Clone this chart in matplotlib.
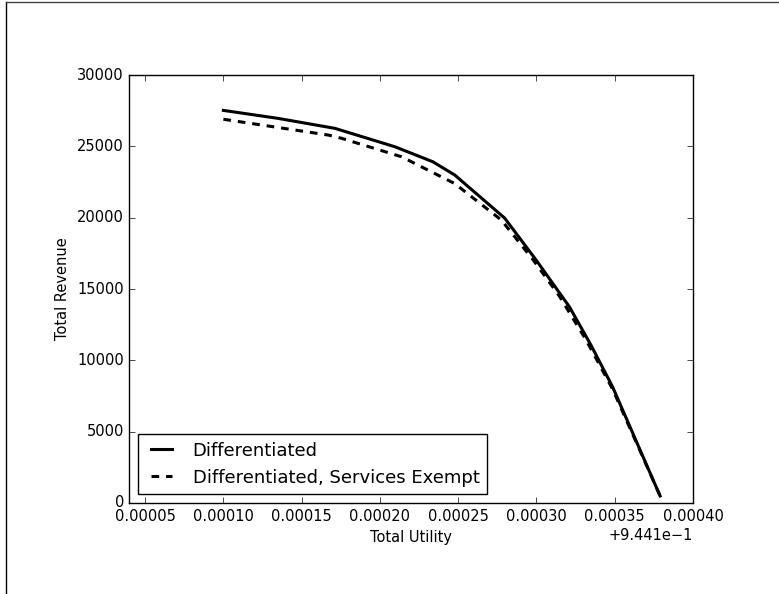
import matplotlib
matplotlib.use("Agg")
import matplotlib.pyplot as plt
from matplotlib.lines import Line2D

# ---------- Data ----------
utility_diff = [0.9442000, 0.9442350, 0.9442713, 0.9443096, 0.9443338, 0.9443478,
                0.9443796, 0.9443998, 0.9444210, 0.9444348, 0.9444486, 0.9444790]
revenue_diff = [27520, 26960, 26260, 24970, 23920, 22990,
                19980, 17030, 13760, 11070, 8150, 490]

utility_exempt = [0.9442000, 0.9442671, 0.9442756, 0.9443138, 0.9443478, 0.9443775,
                  0.9443975, 0.9444146, 0.9444317, 0.9444486, 0.9444790]
revenue_exempt = [26900, 25790, 25560, 24270, 22390, 19840,
                  17100, 14510, 11430, 7990, 490]

labels = ["Differentiated", "Differentiated, Services Exempt"]
x_offset = 0.9441

# ---------- Style ----------
plt.style.use("classic")
plt.rcParams["font.family"] = ["DejaVu Sans"]
plt.rcParams["font.size"] = 10.5
plt.rcParams["lines.scale_dashes"] = False

fig = plt.figure(figsize=(7.79, 5.94), dpi=100, facecolor="white")
ax = fig.add_axes([0.1662, 0.1532, 0.7234, 0.7205])

ax.plot(utility_diff, revenue_diff, color="black", lw=2.2, label=labels[0])
ax.plot(utility_exempt, revenue_exempt, color="black", lw=2.2,
        dashes=(5.5, 5.0), label=labels[1])

ax.set_xlim(0.94414, 0.9445)
ax.set_ylim(0, 30000)
ax.xaxis.get_major_formatter().set_useOffset(x_offset)
ax.set_xlabel("Total Utility", fontsize=10.5)
ax.set_ylabel("Total Revenue", fontsize=10.5)
ax.tick_params(labelsize=10.5)

ax.legend(loc="lower left", fontsize=13, handlelength=1.75,
          handletextpad=0.85, borderaxespad=0.5, frameon=True, fancybox=False)

# frame lines at top and left edge of the picture
fig.add_artist(Line2D([0.0077, 0.0077], [0, 0.996], transform=fig.transFigure,
                      color="black", lw=1))
fig.add_artist(Line2D([0.0077, 1], [0.996, 0.996], transform=fig.transFigure,
                      color="#444444", lw=1))

fig.savefig("out.png", dpi=100, facecolor="white")
